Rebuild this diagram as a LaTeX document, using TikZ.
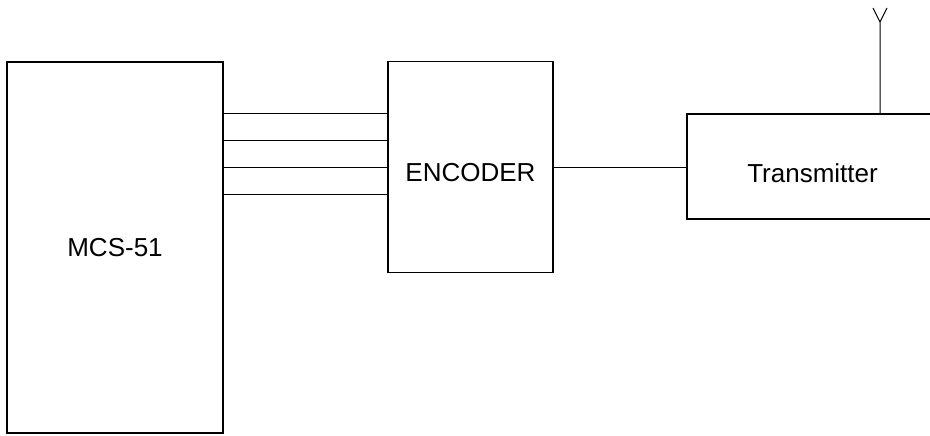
\documentclass[tikz,border=0pt]{standalone}
\usepackage{fontspec}
\setmainfont{Liberation Sans}
\usepackage{tikz}
\usetikzlibrary{calc}

\begin{document}
\begin{tikzpicture}[x=1pt, y=-1pt,
    blk/.style={draw, line width=1.2pt, inner sep=0pt, font=\fontsize{26}{30}\selectfont},
    wire/.style={line width=1pt}]
  \useasboundingbox (0,0) rectangle (930,436);
  \clip (0,0) rectangle (930,436);
  \node[blk, minimum width=216pt, minimum height=371pt] (mcs) at (115,247.5) {MCS-51};
  \node[blk, minimum width=165pt, minimum height=211pt, text height=29.6pt, text depth=0pt] (enc) at (470.5,167) {ENCODER};
  \node[blk, minimum width=251pt, minimum height=105pt, text height=31.6pt, text depth=0pt] (tx) at (812.5,166.5) {Transmitter};
  % data lines
  \foreach \y [count=\i] in {114,140,167,194} {
    \coordinate (bus\i) at (0,\y);
    \draw[wire] (bus\i -| mcs.east) -- (bus\i -| enc.west);
  }
  \draw[wire] (enc.east) -- (enc.east -| tx.west);
  % antenna
  \coordinate (ant) at (880,22);
  \coordinate (antl) at (873,8);
  \coordinate (antr) at (887,8);
  \draw[wire] (tx.north -| ant) -- (ant) -- (antl) (ant) -- (antr);
\end{tikzpicture}
\end{document}
